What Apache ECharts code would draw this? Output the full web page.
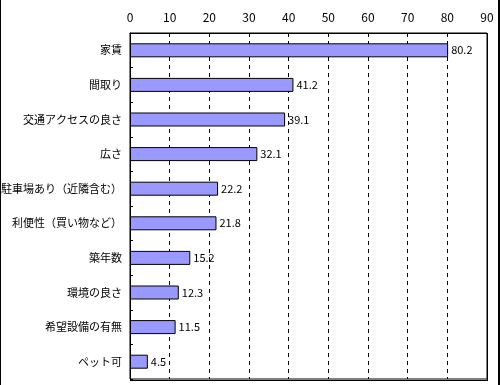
<!DOCTYPE html>
<html><head><meta charset="utf-8">
<script src="https://cdn.jsdelivr.net/npm/echarts@6/dist/echarts.min.js"></script>
<style>html,body{margin:0;padding:0;background:#fff}#c{width:500px;height:385px}</style>
</head><body><div id="c"></div>
<script>
const categories = ['家賃','間取り','交通アクセスの良さ','広さ','駐車場あり（近隣含む）','利便性（買い物など）','築年数','環境の良さ','希望設備の有無','ペット可'];
const values = [80.2, 41.2, 39.1, 32.1, 22.2, 21.8, 15.2, 12.3, 11.5, 4.5];
const xTicks = [0, 90, 10];

const font = '"Noto Sans CJK JP", sans-serif';
const chart = echarts.init(document.getElementById('c'), null, {renderer:'canvas'});
chart.setOption({
  animation: false,
  backgroundColor: '#fff',
  textStyle: {fontFamily: font},
  grid: {left: 130, right: 13, top: 33, bottom: 6, containLabel: false, outerBoundsMode: 'none', show: true, borderColor: '#000', borderWidth: 1, backgroundColor: 'transparent'},
  xAxis: {
    type: 'value', position: 'top', min: xTicks[0], max: xTicks[1], interval: xTicks[2],
    axisLine: {show: true, lineStyle: {color: '#000'}},
    axisTick: {show: false},
    axisLabel: {color: '#000', fontSize: 12, fontFamily: font, margin: 10},
    splitLine: {show: true, lineStyle: {color: '#000', type: [4, 4], width: 1}}
  },
  yAxis: {
    type: 'category', data: categories, inverse: true,
    axisLine: {show: true, lineStyle: {color: '#000'}},
    axisTick: {show: true, inside: true, length: 3, lineStyle: {color: '#000'}},
    axisLabel: {color: '#000', fontSize: 11, fontFamily: font, margin: 8},
    splitLine: {show: false}
  },
  series: [{
    type: 'bar', data: values, barWidth: 14,
    itemStyle: {color: '#9999FF', borderColor: '#000', borderWidth: 1},
    label: {show: true, position: 'right', distance: 3, color: '#000', fontSize: 11, fontFamily: font}
  }],
  graphic: [
    {type: 'rect', shape: {x: 0, y: 0, width: 1, height: 385}, style: {fill: '#000'}, silent: true},
    {type: 'rect', shape: {x: 498, y: 0, width: 2, height: 385}, style: {fill: '#000'}, silent: true},
    {type: 'rect', shape: {x: 487, y: 33, width: 1, height: 348}, style: {fill: '#000'}, silent: true},
    {type: 'rect', shape: {x: 130, y: 380, width: 358, height: 1}, style: {fill: '#000'}, silent: true}
  ]
});
</script></body></html>
